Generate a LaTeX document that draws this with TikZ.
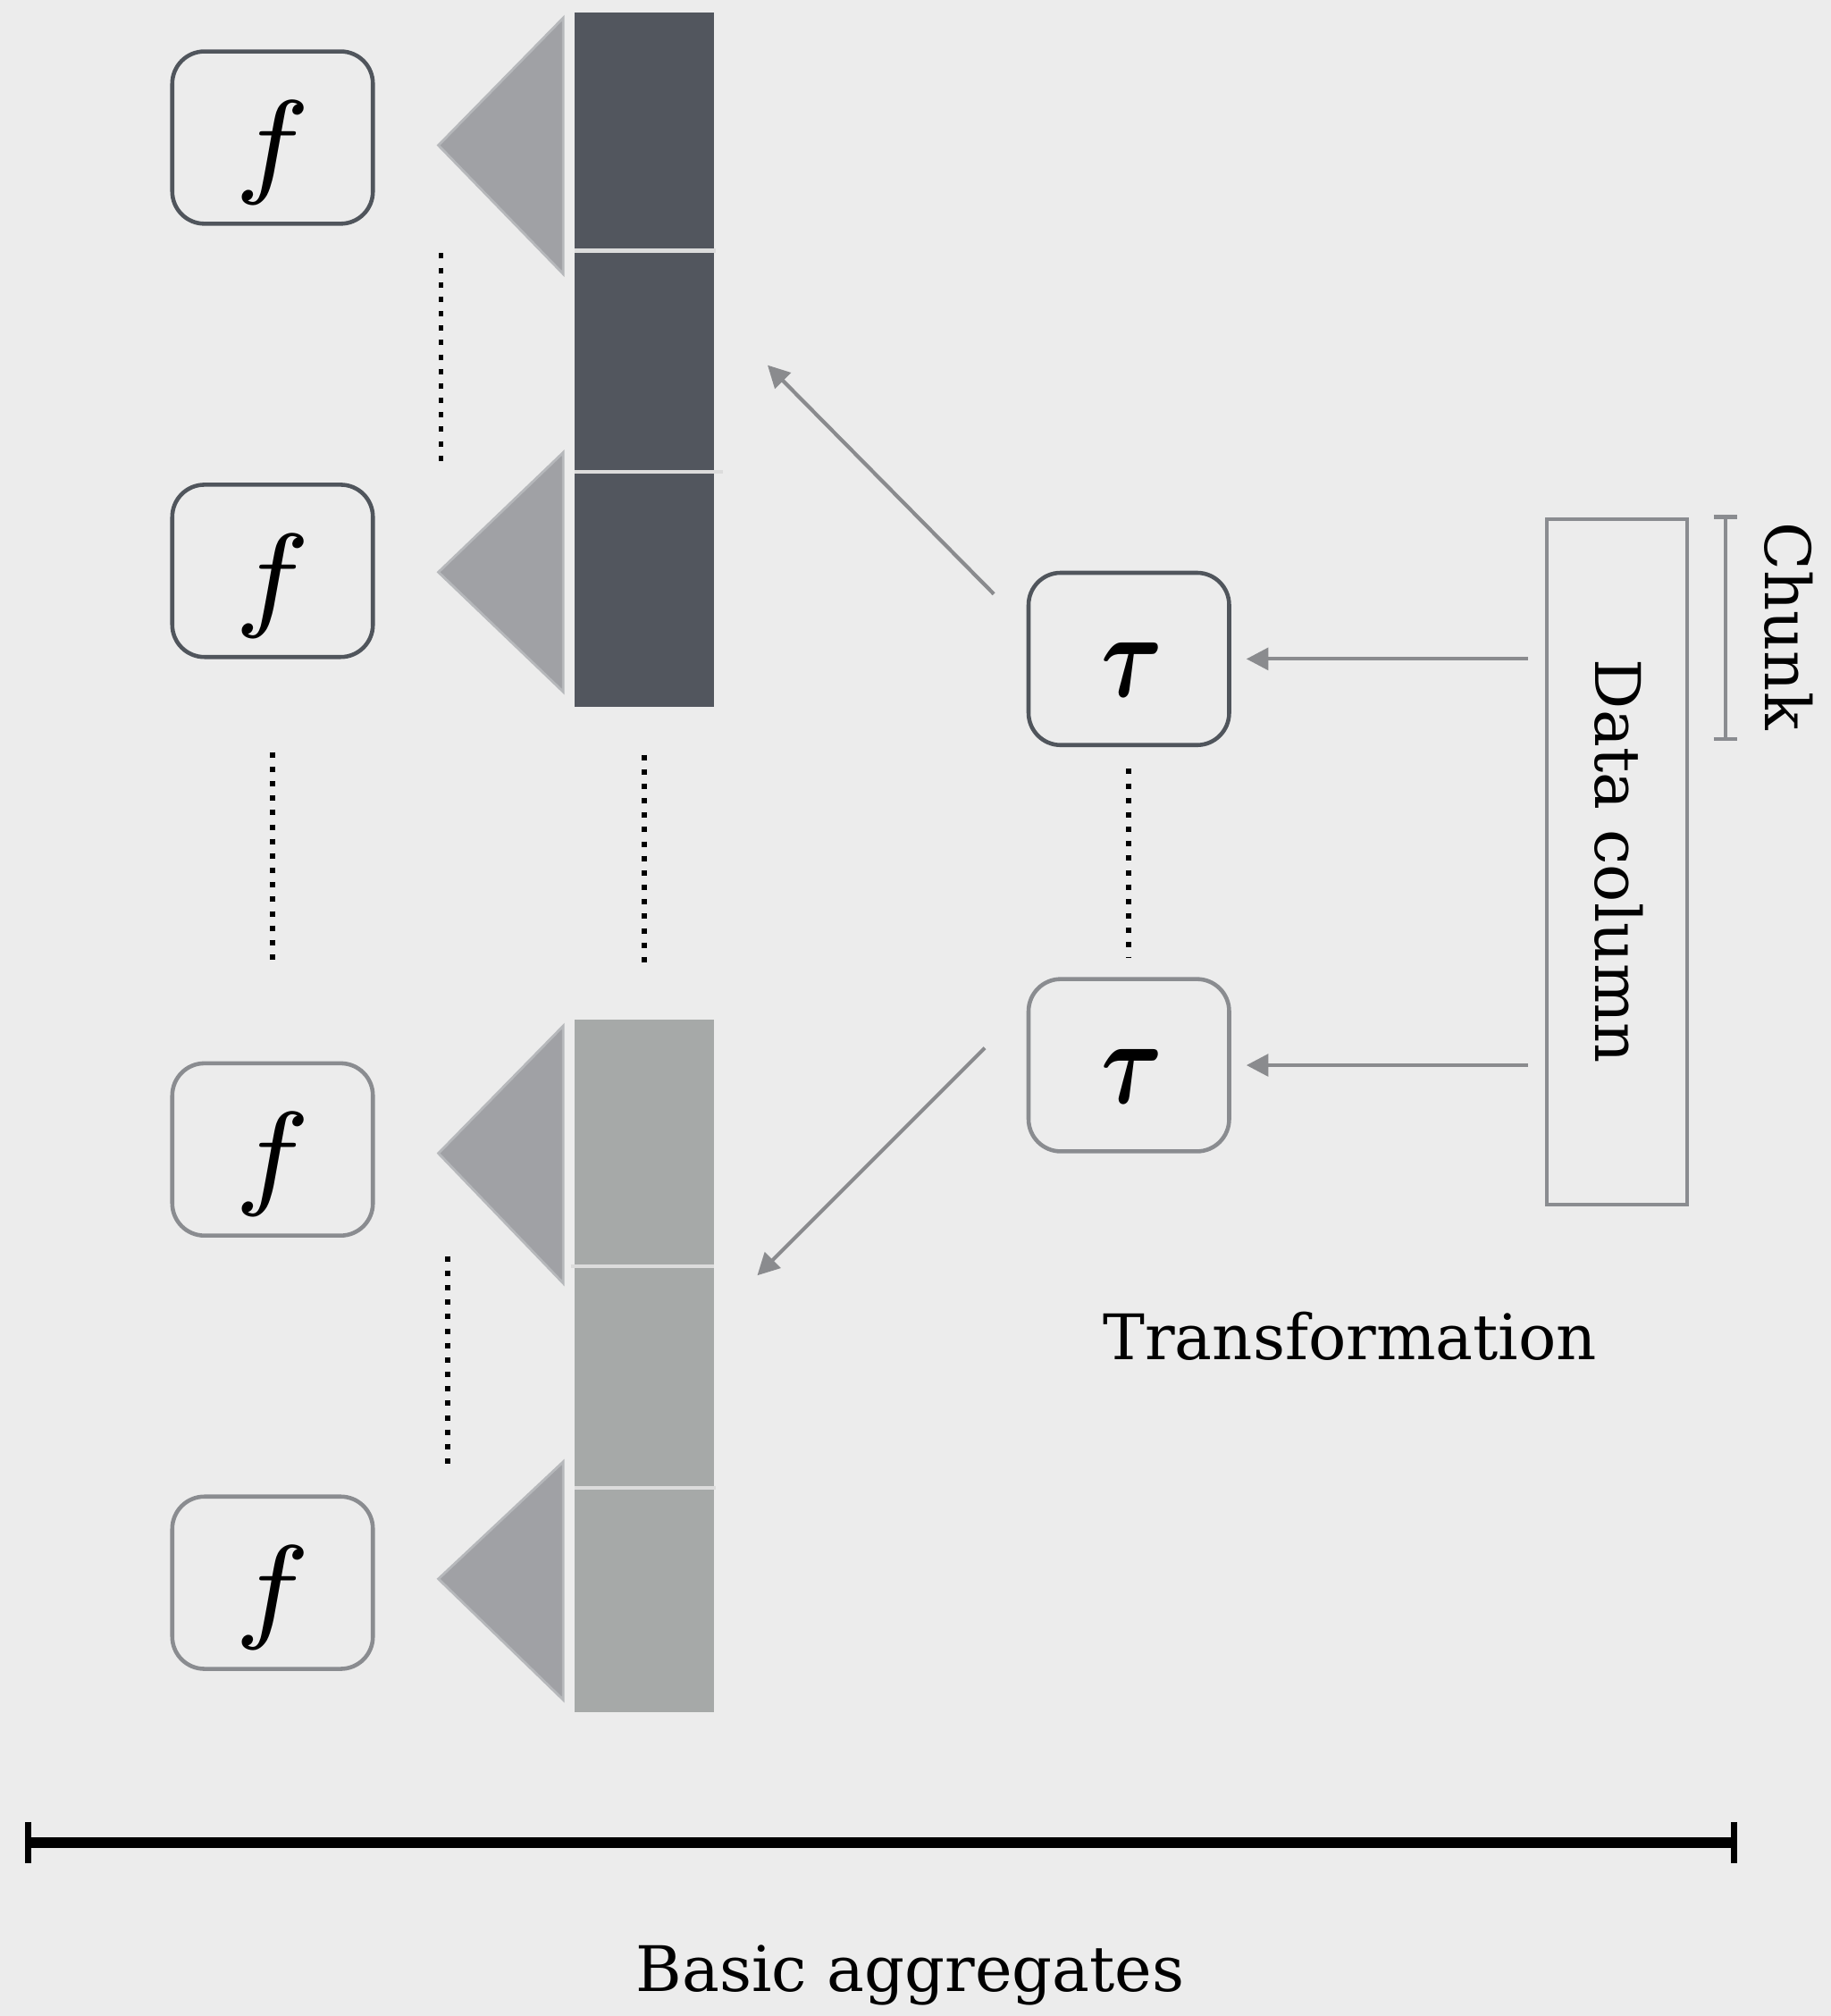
\documentclass[tikz,border=0pt]{standalone}
\usepackage{fontspec}
\setmainfont{DejaVu Serif}
\usepackage{amsmath,bm}
\usetikzlibrary{arrows.meta}
\definecolor{bg}{HTML}{ECECEC}
\definecolor{darkedge}{HTML}{50555C}
\definecolor{grayedge}{HTML}{8A8C90}
\definecolor{trifill}{HTML}{A0A1A5}
\definecolor{triedge}{HTML}{B6B8BB}
\definecolor{darkbar}{HTML}{52565E}
\definecolor{lightbar}{HTML}{A6A9A8}
\definecolor{divider}{HTML}{DCDCDC}
\definecolor{arrowgray}{HTML}{8A8B8E}
\tikzset{
  fbox/.style={draw, rounded corners=0.36cm, minimum width=2.245cm, minimum height=1.928cm, line width=1.3pt, inner sep=0pt},
  darkbox/.style={fbox, draw=darkedge},
  graybox/.style={fbox, draw=grayedge},
  tri/.style={fill=trifill, draw=triedge, line width=0.8pt},
  divline/.style={draw=divider, line width=1.2pt},
  dots/.style={line width=1.7pt, dash pattern=on 1.7pt off 2.9pt, black},
  arr/.style={draw=arrowgray, line width=1.2pt, -{Triangle[length=7pt,width=7pt]}},
  lbl/.style={font=\fontsize{20}{24}\selectfont, inner sep=0pt},
}
\newcommand{\fsym}{\scalebox{5.3}{$\scriptstyle f$}}
\newcommand{\tsym}{\scalebox{3.0}[3.85]{$\bm{\tau}$}}
\begin{document}
\begin{tikzpicture}[x=0.014389cm,y=-0.014389cm]
\fill[bg] (0,0) rectangle (1424,1568);
\useasboundingbox (0,0) rectangle (1424,1568);

% f boxes
\node[darkbox, label={[yshift=-0.17cm]center:\fsym}] (f1) at (212,107) {};
\node[darkbox, label={[yshift=-0.17cm]center:\fsym}] (f2) at (212,444) {};
\node[graybox, label={[yshift=-0.17cm]center:\fsym}] (f3) at (212,894) {};
\node[graybox, label={[yshift=-0.17cm]center:\fsym}] (f4) at (212,1231) {};

% triangles
\path[tri] (341,113) -- (438,14) -- (438,213) -- cycle;
\path[tri] (341,445) -- (438,352) -- (438,538) -- cycle;
\path[tri] (341,897) -- (438,798) -- (438,998) -- cycle;
\path[tri] (341,1228) -- (438,1137) -- (438,1322) -- cycle;

% bars
\fill[darkbar] (447,10) rectangle (555,550);
\draw[divline] (447,195) -- (557,195);
\draw[divline] (447,367) -- (562,367);
\fill[lightbar] (447,793) rectangle (555,1332);
\draw[divline] (444,985) -- (555,985);
\draw[divline] (447,1157) -- (557,1157);

% dotted lines
\draw[dots] (343,197) -- (343,365);
\draw[dots] (212,585) -- (212,752);
\draw[dots] (501,587) -- (501,754);
\draw[dots] (348,977) -- (348,1145);
\draw[dots] (878,598) -- (878,745);

% tau boxes
\node[darkbox, label={[xshift=0.04cm,yshift=-0.12cm]center:\tsym}] (t1) at (878,512.5) {};
\node[graybox, label={[xshift=0.04cm,yshift=-0.12cm]center:\tsym}] (t2) at (878,828.5) {};

% data column
\node[draw=grayedge, line width=1.2pt, minimum width=1.568cm, minimum height=7.669cm, inner sep=0pt] (dc) at (1257.5,670.5) {};
\node[lbl, rotate=-90] (dctext) at (1259,670) {Data column};

% chunk bracket
\coordinate (cht) at (1342,402);
\coordinate (chb) at (1342,575);
\draw[draw=grayedge, line width=1.2pt] (cht) -- (chb);
\draw[draw=grayedge, line width=1.2pt] ([xshift=-0.13cm]cht) -- ([xshift=0.13cm]cht);
\draw[draw=grayedge, line width=1.2pt] ([xshift=-0.13cm]chb) -- ([xshift=0.13cm]chb);
\node[lbl, rotate=-90] (chunk) at (1391,487) {Chunk};

% arrows
\draw[arr, shorten <=0.19cm, shorten >=0.17cm] (dc.west |- t1.east) -- (t1.east);
\draw[arr, shorten <=0.19cm, shorten >=0.17cm] (dc.west |- t2.east) -- (t2.east);
\coordinate (a1s) at (773,462);
\coordinate (a1e) at (597,284);
\coordinate (a2s) at (766,815);
\coordinate (a2e) at (589,992);
\draw[arr] (a1s) -- (a1e);
\draw[arr] (a2s) -- (a2e);

\node[lbl] (trans) at (1050,1039) {Transformation};

% bottom scale
\coordinate (bl) at (22,1433);
\coordinate (br) at (1349,1433);
\draw[line width=3.5pt, black] (bl) -- (br);
\draw[line width=2pt, black] ([yshift=0.23cm]bl) -- ([yshift=-0.23cm]bl);
\draw[line width=2pt, black] ([yshift=0.23cm]br) -- ([yshift=-0.23cm]br);
\node[lbl] (basic) at (708,1536) {Basic aggregates};
\end{tikzpicture}
\end{document}
